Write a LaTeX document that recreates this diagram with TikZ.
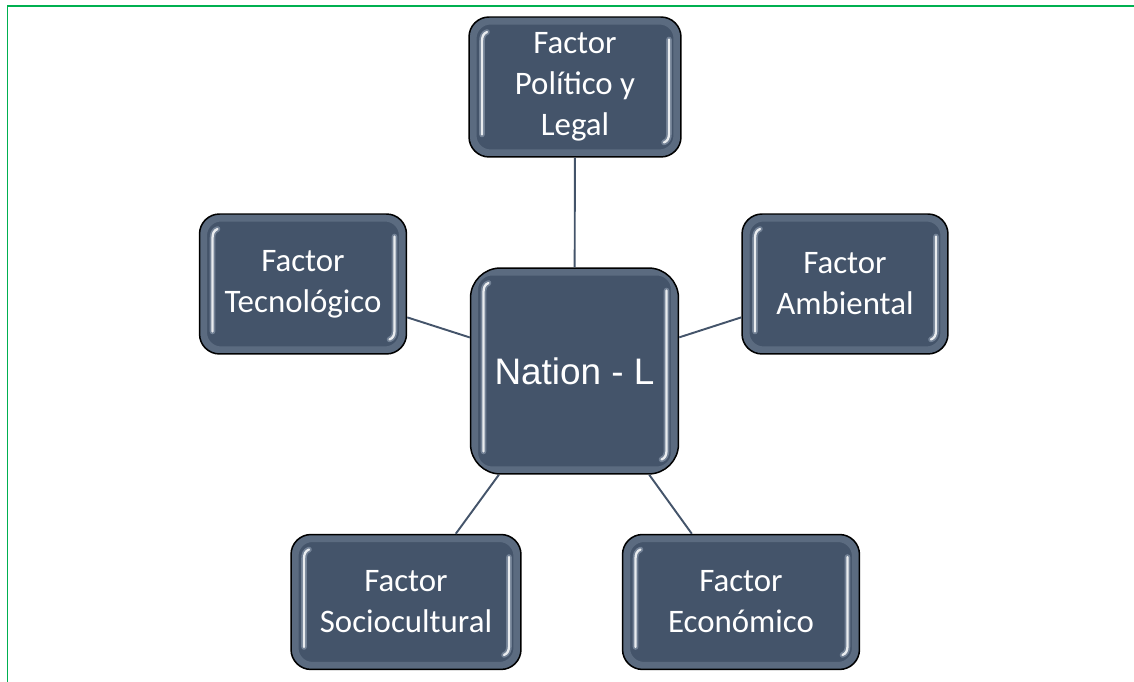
\documentclass[tikz,border=0pt]{standalone}
\usepackage{fontspec}
\setmainfont{Carlito}
\newfontfamily\arialfont{Liberation Sans}
\usetikzlibrary{positioning}
\definecolor{slate}{HTML}{44546A}
\definecolor{grn}{HTML}{00B050}
\definecolor{glow}{HTML}{C9D6E8}

\begin{document}
\begin{tikzpicture}[x=0.02cm,y=0.02cm,
  fac/.style={draw=black,line width=0.85pt,fill=slate,rounded corners=0.4cm,text=white,align=center,
    inner sep=0pt,font=\fontsize{18.7}{23.3}\selectfont,
    path picture={
      \draw[glow,opacity=.18,line width=4pt,rounded corners=0.35cm]
        ([xshift=0.08cm,yshift=-0.08cm]path picture bounding box.north west) rectangle
        ([xshift=-0.08cm,yshift=0.08cm]path picture bounding box.south east);
      \foreach \w/\c/\o in {3.2pt/glow/.35,1.3pt/white/.85}{
      \draw[\c,opacity=\o,line width=\w,line cap=round,sharp corners]
        ([xshift=0.36cm,yshift=-0.3cm]path picture bounding box.north west) to[out=200,in=90]
        ([xshift=0.26cm,yshift=-0.48cm]path picture bounding box.north west) --
        ([xshift=0.26cm,yshift=0.45cm]path picture bounding box.south west);
      \draw[\c,opacity=\o,line width=\w,line cap=round,sharp corners]
        ([xshift=-0.24cm,yshift=-0.45cm]path picture bounding box.north east) --
        ([xshift=-0.24cm,yshift=0.46cm]path picture bounding box.south east) to[out=-90,in=20]
        ([xshift=-0.34cm,yshift=0.29cm]path picture bounding box.south east);
      }
    }},
  lnk/.style={draw=slate,line width=1.1pt}]
  \useasboundingbox (0,0) rectangle (1134,682);
  \draw[grn,line width=0.04cm] (7.5,0) -- (7.5,676) -- (1134,676);

  \node[fac,minimum width=4.24cm,minimum height=2.8cm] (pol) at (575,595) {Factor\\Político y\\Legal};
  \node[fac,minimum width=4.14cm,minimum height=2.8cm] (tec) at (303,398) {Factor\\Tecnológico};
  \node[fac,minimum width=4.12cm,minimum height=2.8cm] (amb) at (845,398) {Factor\\Ambiental};
  \node[fac,minimum width=4.16cm,minimum height=4.12cm,rounded corners=0.6cm,
    font=\arialfont\fontsize{21}{25}\selectfont] (nat) at (574.5,311) {Nation - L};
  \node[fac,minimum width=4.6cm,minimum height=2.7cm] (soc) at (406,80) {Factor\\Sociocultural};
  \node[fac,minimum width=4.74cm,minimum height=2.7cm] (eco) at (741,80) {Factor\\Económico};

  \draw[lnk] (pol) -- (nat);
  \draw[lnk] (tec) -- (nat);
  \draw[lnk] (amb) -- (nat);
  \draw[lnk] (soc) -- (nat);
  \draw[lnk] (eco) -- (nat);
\end{tikzpicture}
\end{document}
